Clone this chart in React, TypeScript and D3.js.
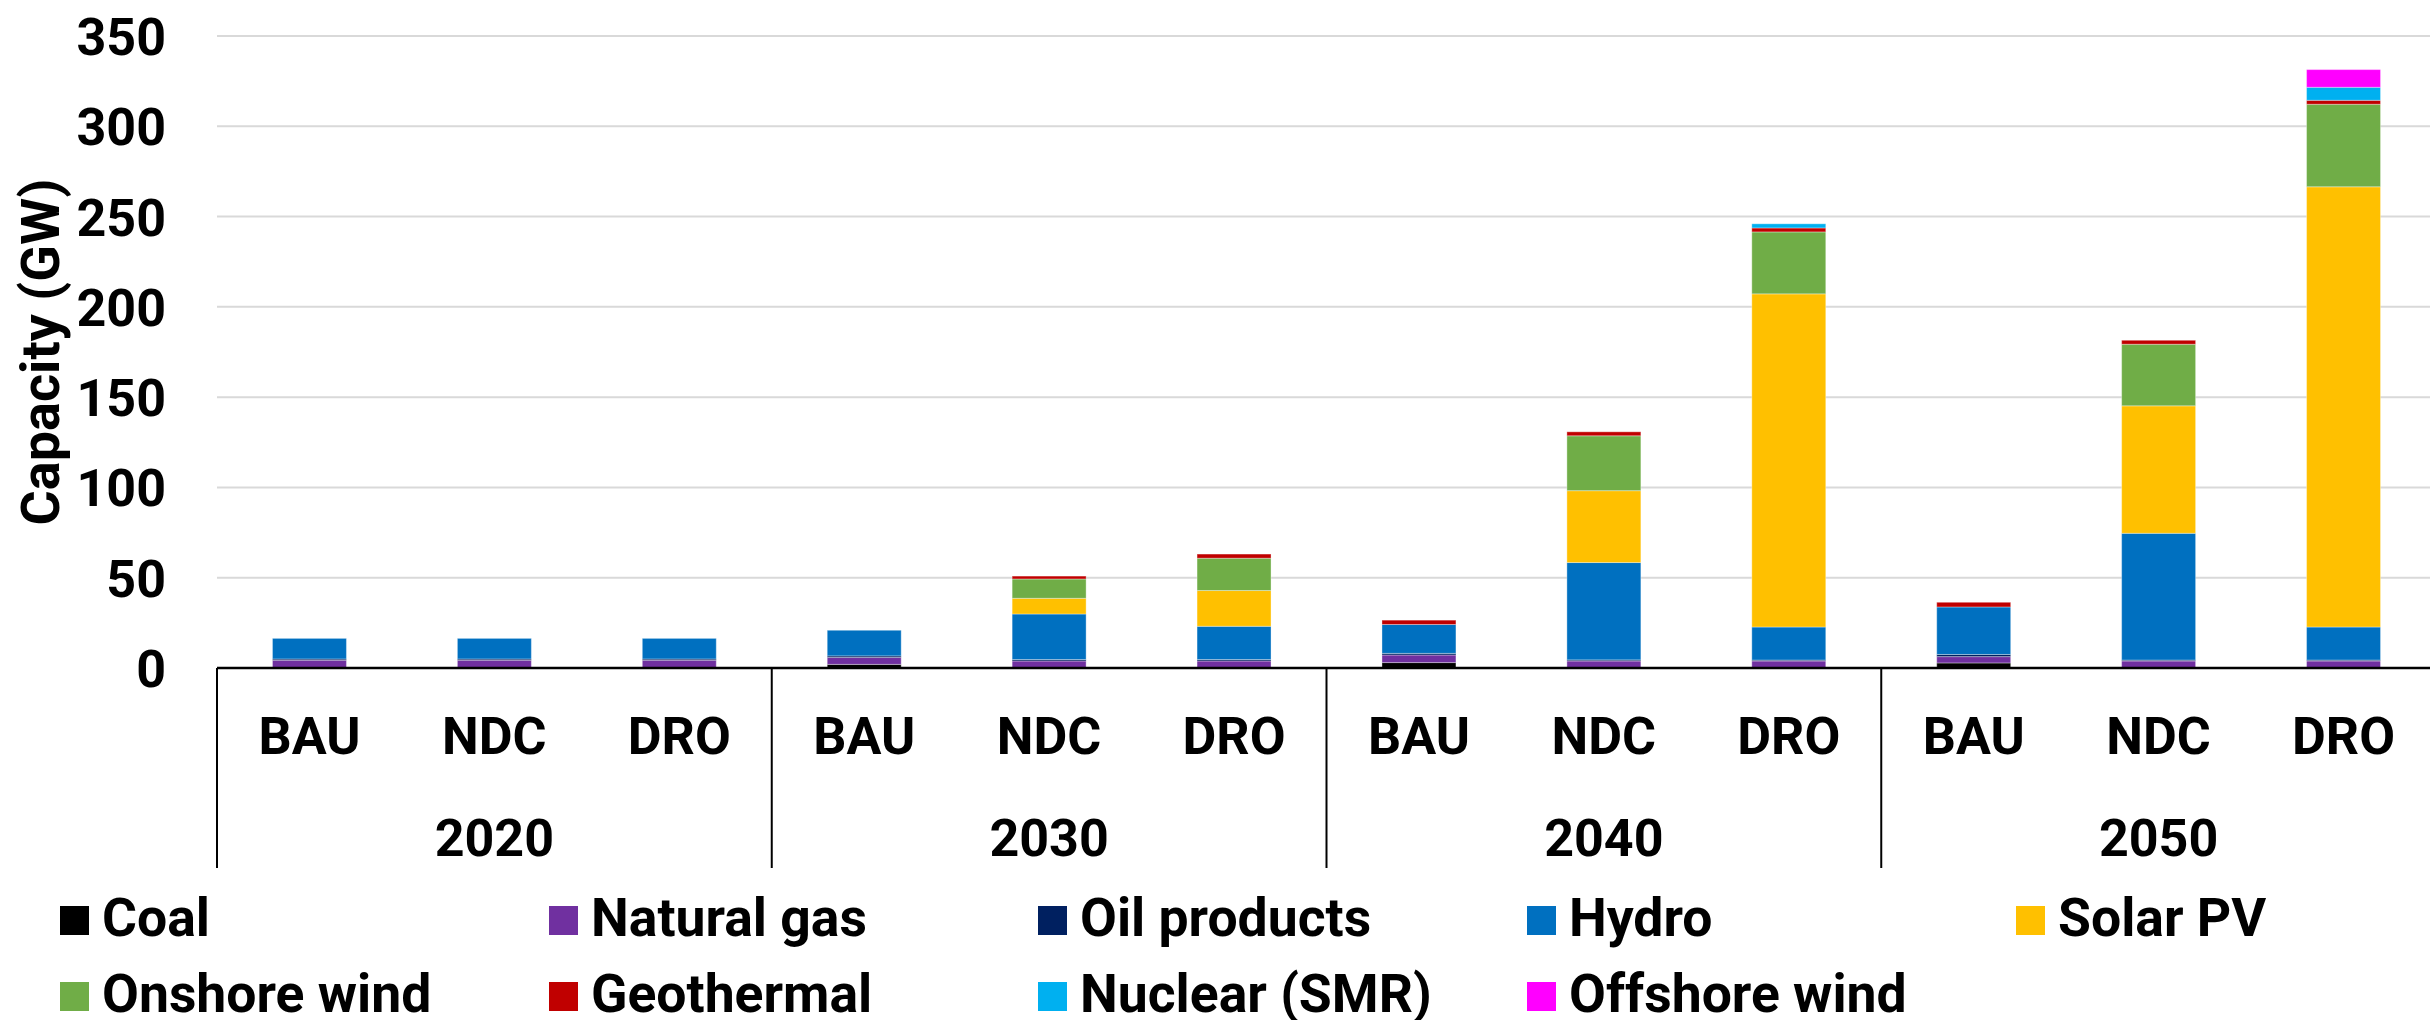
import React from "react";
import * as d3 from "d3";

const years = ["2020", "2030", "2040", "2050"];
const scenarios = ["BAU", "NDC", "DRO"];
const seriesNames = ["Coal", "Natural gas", "Oil products", "Hydro", "Solar PV", "Onshore wind", "Geothermal", "Nuclear (SMR)", "Offshore wind"];
const seriesColors = ["#000000", "#7030A0", "#002060", "#0070C0", "#FFC000", "#70AD47", "#C00000", "#00B0F0", "#FF00FF"];
const yTicks = [0, 50, 100, 150, 200, 250, 300, 350];

// order of bars: 2020 BAU, NDC, DRO, 2030 BAU, NDC, DRO, ...
const coal = [0, 0, 0, 2.0, 0, 0, 3.0, 0, 0, 2.8, 0, 0];
const naturalGas = [4.3, 4.3, 4.3, 3.8, 3.9, 3.9, 4.2, 3.9, 3.9, 3.5, 3.9, 3.9];
const oilProducts = [0.7, 0.7, 0.7, 0.9, 0.8, 0.8, 0.9, 0.6, 0.5, 1.2, 0.5, 0.5];
const hydro = [11.4, 11.4, 11.4, 14.2, 25.2, 18.4, 16.0, 53.9, 18.3, 26.3, 70.2, 18.3];
const solarPV = [0, 0, 0, 0, 8.7, 19.8, 0, 39.8, 184.5, 0, 70.6, 243.8];
const onshoreWind = [0, 0, 0, 0, 10.7, 17.9, 0, 30.4, 34.3, 0, 34.1, 45.7];
const geothermal = [0, 0, 0, 0, 1.6, 2.3, 2.4, 2.2, 2.2, 2.6, 2.2, 2.2];
const nuclearSMR = [0, 0, 0, 0, 0, 0, 0, 0, 2.3, 0, 0, 7.2];
const offshoreWind = [0, 0, 0, 0, 0, 0, 0, 0, 0, 0, 0, 9.8];

const seriesValues = [coal, naturalGas, oilProducts, hydro, solarPV, onshoreWind, geothermal, nuclearSMR, offshoreWind];

const W = 2430;
const H = 1020;
const left = 217;
const right = 2436;
const y0 = 668;
const yTop = 36;
const FONT = "Roboto, 'Noto Sans', sans-serif";
const FS = 52;
const LEG_FS = 53.5;

export default function App() {
  const keys = years.flatMap((yr) => scenarios.map((s) => `${yr}-${s}`));
  const x = d3.scaleBand().domain(keys).range([left, right]).paddingInner(0.6).paddingOuter(0.3);
  const y = d3.scaleLinear().domain([0, 350]).range([y0, yTop]);

  const rows = keys.map((k, i) => {
    const r: any = { key: k };
    seriesNames.forEach((n, j) => (r[n] = seriesValues[j][i]));
    return r;
  });
  const stacked = d3.stack().keys(seriesNames)(rows as any);

  const step = x.step();
  const groupW = step * 3;

  const legendCols = [60, 549, 1038, 1527, 2016];
  const legendRows = [936, 1012];

  return (
    <svg width={W} height={H} style={{ position: "absolute", left: 0, top: 0, background: "#fff" }} xmlns="http://www.w3.org/2000/svg">
      <rect x={0} y={0} width={W} height={H} fill="#fff" />
      {/* gridlines */}
      {yTicks.filter((t) => t > 0).map((t) => (
        <line key={t} x1={left} x2={W} y1={y(t)} y2={y(t)} stroke="#D9D9D9" strokeWidth={2} />
      ))}
      {/* y tick labels */}
      {yTicks.map((t) => (
        <text key={t} x={166} y={y(t) + 19} textAnchor="end" fontFamily={FONT} fontWeight={700} fontSize={FS} fill="#000">
          {t}
        </text>
      ))}
      {/* y title */}
      <text transform={`translate(59,352) rotate(-90)`} textAnchor="middle" fontFamily={FONT} fontWeight={700} fontSize={54} fill="#000">
        Capacity (GW)
      </text>
      {/* bars */}
      {stacked.map((layer, j) => (
        <g key={seriesNames[j]} fill={seriesColors[j]}>
          {layer.map((d: any, i: number) => {
            const h = y(d[0]) - y(d[1]);
            if (h <= 0) return null;
            return (
              <rect key={i} x={x(keys[i])} y={y(d[1])} width={x.bandwidth()} height={h} stroke="#ffffff" strokeOpacity={0.35} strokeWidth={1} />
            );
          })}
        </g>
      ))}
      {/* zero axis */}
      <line x1={left} x2={W} y1={y0} y2={y0} stroke="#000" strokeWidth={2.5} />
      {/* category table lines */}
      {d3.range(5).map((g) => (
        <line key={g} x1={left + g * groupW} x2={left + g * groupW} y1={y0} y2={868} stroke="#000" strokeWidth={2} />
      ))}
      {/* scenario labels */}
      {keys.map((k, i) => (
        <text key={k} x={(x(k) as number) + x.bandwidth() / 2} y={754} textAnchor="middle" fontFamily={FONT} fontWeight={700} fontSize={FS} fill="#000">
          {scenarios[i % 3]}
        </text>
      ))}
      {/* year labels */}
      {years.map((yr, g) => (
        <text key={yr} x={left + g * groupW + groupW / 2} y={856} textAnchor="middle" fontFamily={FONT} fontWeight={700} fontSize={FS} fill="#000">
          {yr}
        </text>
      ))}
      {/* legend */}
      {seriesNames.map((n, j) => {
        const col = j < 5 ? j : j - 5;
        const row = j < 5 ? 0 : 1;
        const lx = legendCols[col];
        const ly = legendRows[row];
        return (
          <g key={n}>
            <rect x={lx} y={ly - 30} width={29} height={29} fill={seriesColors[j]} />
            <text x={lx + 42} y={ly} fontFamily={FONT} fontWeight={700} fontSize={LEG_FS} fill="#000">
              {n}
            </text>
          </g>
        );
      })}
    </svg>
  );
}
